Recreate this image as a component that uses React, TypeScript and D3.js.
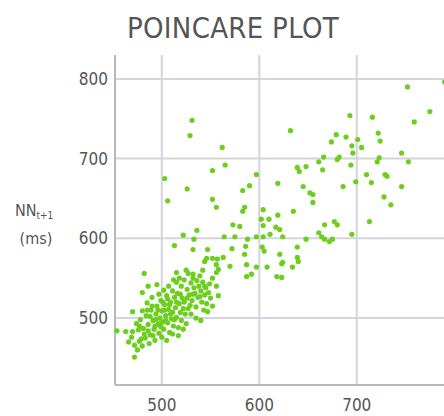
import React from "react";
import * as d3 from "d3";

const title = "POINCARE PLOT";
const xTicks = [500, 600, 700];
const yTicks = [500, 600, 700, 800];

// NN_t (ms), NN_t+1 (ms)
const upperPoints: [number, number][] = [
  [531, 748], [529, 729], [562, 714], [565, 692], [552, 685], [752, 790], [790, 796], [775, 759],
  [759, 746], [693, 754], [716, 752], [632, 735], [722, 732], [724, 722], [679, 730], [674, 721],
  [689, 727], [701, 724], [705, 714], [695, 716], [696, 707], [746, 707], [753, 696], [723, 701],
  [721, 696], [682, 702], [666, 702], [661, 696], [694, 692], [648, 690], [639, 689], [680, 699],
  [641, 684], [665, 686], [710, 680], [715, 670], [729, 680], [731, 678], [699, 671], [686, 665],
  [746, 665], [728, 652], [735, 642], [645, 665], [652, 657], [655, 655], [655, 645], [635, 634],
  [619, 669], [597, 680], [590, 666], [583, 660], [503, 675], [526, 662], [506, 647],
];

const middlePoints: [number, number][] = [
  [552, 649], [556, 639], [585, 639], [583, 634], [604, 636], [602, 624], [610, 624], [619, 629],
  [617, 614], [621, 611], [604, 616], [573, 617], [580, 615], [667, 617], [677, 621], [680, 617],
  [713, 621], [661, 607], [664, 602], [667, 599], [672, 596], [675, 599], [695, 605], [648, 599],
  [639, 589], [624, 602], [611, 605], [604, 602], [597, 602], [603, 589], [605, 584], [588, 599],
  [586, 590], [575, 602], [564, 602], [572, 587], [536, 610], [522, 604], [533, 599], [532, 586],
  [547, 586], [552, 575], [557, 574], [558, 561], [556, 557], [542, 560], [546, 575], [513, 591],
  [482, 556], [515, 557], [532, 555], [570, 565], [587, 567], [597, 564], [608, 564], [621, 580],
  [624, 570], [634, 564], [639, 576], [623, 551], [618, 552], [592, 555], [587, 552], [585, 580],
  [563, 576], [544, 571], [556, 567], [623, 568], [640, 571],
];

const clusterPoints: [number, number][] = [
  [478, 498], [481, 487], [484, 503], [486, 492], [488, 479], [489, 510], [491, 497], [492, 486],
  [494, 505], [495, 515], [496, 492], [497, 481], [498, 500], [499, 522], [500, 509], [501, 495],
  [502, 486], [503, 517], [504, 503], [505, 528], [506, 494], [507, 511], [508, 482], [509, 520],
  [510, 499], [511, 507], [512, 490], [513, 526], [514, 513], [515, 501], [516, 531], [517, 488],
  [518, 518], [519, 507], [520, 497], [521, 525], [493, 472], [487, 468], [483, 475], [480, 509],
  [485, 519], [490, 526], [497, 530], [502, 535], [507, 540], [511, 534], [476, 485], [474, 493],
  [479, 474], [500, 476], [505, 472], [511, 480], [517, 478], [522, 486], [525, 493], [524, 505],
  [527, 512], [523, 520], [463, 483], [470, 483], [466, 470], [472, 466], [475, 460], [469, 476],
  [477, 471], [472, 451], [480, 465], [454, 484], [480, 532], [520, 540], [523, 548], [526, 536],
  [528, 529], [530, 544], [531, 522], [533, 538], [534, 531], [536, 547], [537, 526], [538, 540],
  [540, 534], [541, 520], [542, 545], [544, 529], [545, 538], [546, 518], [548, 532], [549, 543],
  [550, 525], [529, 516], [535, 514], [532, 550], [539, 553], [527, 556], [543, 510], [547, 508],
  [525, 560], [518, 550], [515, 545], [512, 548], [486, 540], [495, 542], [470, 508], [535, 500],
  [540, 497], [530, 505], [552, 515], [556, 540], [552, 550], [558, 528], [493, 490], [499, 489],
  [504, 497], [488, 502], [508, 517], [513, 498], [486, 484], [491, 478], [496, 510], [501, 520],
  [482, 480], [477, 490], [485, 510], [490, 515], [494, 498], [498, 493], [503, 510], [506, 524],
  [509, 505], [515, 520], [519, 530], [522, 512], [526, 525], [532, 530], [539, 527], [544, 540],
];

const allPoints = [...upperPoints, ...middlePoints, ...clusterPoints];

const W = 444;
const H = 416;
const left = 115;
const right = 444;
const top = 55;
const bottom = 385;

export default function App() {
  const x = d3.scaleLinear().domain([452, 789.5]).range([left, right]);
  const y = d3.scaleLinear().domain([416, 830]).range([bottom, top]);
  const font = "'DejaVu Sans Condensed', 'DejaVu Sans', sans-serif";
  return (
    <svg
      width={W}
      height={H}
      style={{ position: "absolute", left: 0, top: 0, background: "#fff" }}
      fontFamily={font}
    >
      <text x={233} y={38} textAnchor="middle" fontSize={29} fill="#555" letterSpacing={0.3}>
        {title}
      </text>
      {xTicks.map((t) => (
        <line key={"gx" + t} x1={x(t)} x2={x(t)} y1={top} y2={bottom} stroke="#d4d4dc" strokeWidth={2} />
      ))}
      {yTicks.map((t) => (
        <line key={"gy" + t} x1={left} x2={right} y1={y(t)} y2={y(t)} stroke="#d4d4dc" strokeWidth={2} />
      ))}
      <line x1={left} x2={left} y1={top} y2={bottom} stroke="#b8b8c0" strokeWidth={2} />
      <line x1={left} x2={right} y1={bottom} y2={bottom} stroke="#b8b8c0" strokeWidth={2} />
      {yTicks.map((t) => (
        <text key={"ty" + t} x={108} y={y(t)} dy="0.36em" textAnchor="end" fontSize={17} fill="#555">
          {t}
        </text>
      ))}
      {xTicks.map((t) => (
        <text key={"tx" + t} x={x(t)} y={411} textAnchor="middle" fontSize={17} fill="#555">
          {t}
        </text>
      ))}
      <text x={15} y={216} fontSize={16} fill="#555">
        NN
        <tspan fontSize={10} dy={3}>t+1</tspan>
      </text>
      <text x={36} y={244} textAnchor="middle" fontSize={16} fill="#555">
        (ms)
      </text>
      {allPoints.map((p, i) => (
        <circle key={i} cx={x(p[0])} cy={y(p[1])} r={2.6} fill="#6ccf1e" />
      ))}
    </svg>
  );
}
